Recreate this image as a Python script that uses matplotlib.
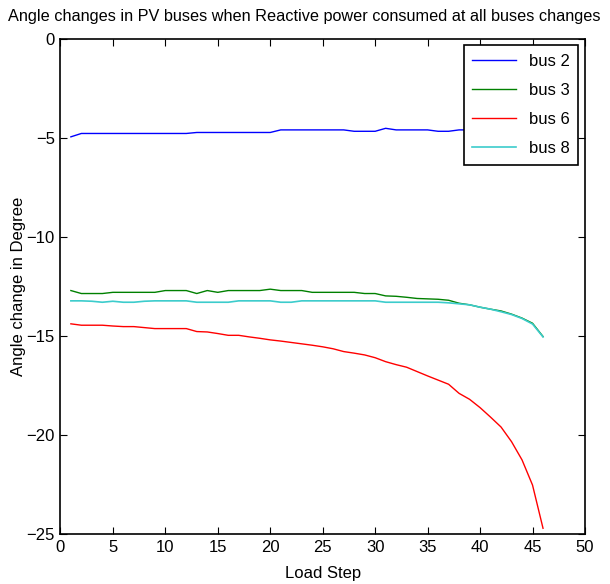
import numpy as np
import matplotlib
matplotlib.use("Agg")
import matplotlib.pyplot as plt

plt.rcParams["font.family"] = ["Liberation Sans", "DejaVu Sans"]

# load steps
load_step = list(range(1, 47))

bus2 = [-4.95] + [-4.78] * 11 + [-4.73] * 8 + [-4.60] * 7 + [-4.67] * 3 + [-4.52] \
    + [-4.60] * 4 + [-4.67] * 2 + [-4.60] * 9

bus3 = [-12.71, -12.86, -12.86, -12.86, -12.80, -12.80, -12.80, -12.80, -12.80, -12.71,
        -12.71, -12.71, -12.86, -12.71, -12.80, -12.71, -12.71, -12.71, -12.71, -12.64,
        -12.71, -12.71, -12.71, -12.80, -12.80, -12.80, -12.80, -12.80, -12.86, -12.86,
        -12.98, -13.00, -13.05, -13.11, -13.13, -13.15, -13.20, -13.35, -13.43, -13.55,
        -13.65, -13.74, -13.90, -14.10, -14.36, -15.03]

bus6 = [-14.39, -14.46, -14.46, -14.46, -14.50, -14.53, -14.53, -14.58, -14.63, -14.63,
        -14.63, -14.63, -14.78, -14.80, -14.88, -14.97, -14.97, -15.05, -15.12, -15.20,
        -15.26, -15.33, -15.40, -15.47, -15.55, -15.65, -15.79, -15.87, -15.96, -16.10,
        -16.30, -16.45, -16.58, -16.80, -17.02, -17.23, -17.44, -17.90, -18.20, -18.62,
        -19.10, -19.60, -20.34, -21.26, -22.53, -24.71]

bus8 = [-13.23, -13.23, -13.25, -13.30, -13.25, -13.30, -13.30, -13.25, -13.23, -13.23,
        -13.23, -13.23, -13.30, -13.30, -13.30, -13.30, -13.23, -13.23, -13.23, -13.23,
        -13.30, -13.30, -13.23, -13.23, -13.23, -13.23, -13.23, -13.23, -13.23, -13.23,
        -13.30, -13.30, -13.30, -13.30, -13.30, -13.30, -13.33, -13.38, -13.43, -13.55,
        -13.65, -13.78, -13.92, -14.12, -14.40, -15.05]

fig = plt.figure(figsize=(6.1, 5.84), dpi=100)
ax = fig.add_axes([0.099, 0.0856, 0.860, 0.848])

ax.plot(load_step, bus2, color="#0000ff", lw=1, label="bus 2")
ax.plot(load_step, bus3, color="#008000", lw=1, label="bus 3")
ax.plot(load_step, bus6, color="#ff0000", lw=1, label="bus 6")
ax.plot(load_step, bus8, color="#3ccccc", lw=1.2, label="bus 8")

ax.set_xlim(0, 50)
ax.set_ylim(-25, 0)
ax.set_xticks(np.arange(0, 51, 5))
ax.set_yticks(np.arange(-25, 1, 5))
ax.tick_params(direction="in", top=True, right=True, length=5, labelsize=12, pad=4)
for s in ax.spines.values():
    s.set_linewidth(1.2)

ax.set_xlabel("Load Step", fontsize=12, labelpad=8)
ax.set_ylabel("Angle change in Degree", fontsize=12, labelpad=0)
fig.text(0.498, 0.972, "Angle changes in PV buses when Reactive power consumed at all buses changes",
         fontsize=11.7, ha="center", va="center")

leg = ax.legend(loc="upper right", fontsize=12, fancybox=False, edgecolor="black",
                framealpha=1, handlelength=2.6, borderaxespad=0.4, labelspacing=0.85,
                borderpad=0.5)
leg.get_frame().set_linewidth(1.2)

fig.savefig("out.png", dpi=100)
